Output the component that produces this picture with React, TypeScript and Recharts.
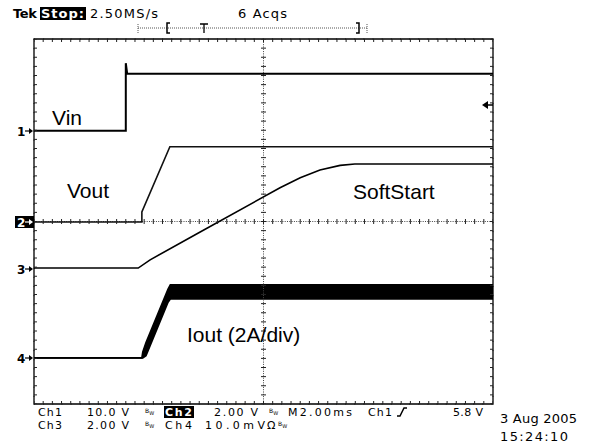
import React from 'react';
import { ComposedChart, Line, Area, Scatter, XAxis, YAxis, CartesianGrid, ReferenceLine, ReferenceArea } from 'recharts';

// scope screen: 10 x 8 divisions, time in divisions (2 ms/div), level in divisions from bottom
const xDivs = [0, 1, 2, 3, 4, 5, 6, 7, 8, 9, 10];
const yDivs = [0, 1, 2, 3, 4, 5, 6, 7, 8];

const vinTime = [0, 2.0, 2.0, 2.03, 10];
const vinLevel = [5.99, 5.99, 7.47, 7.24, 7.24];

const voutTime = [0, 2.35, 2.35, 2.96, 10];
const voutLevel = [3.99, 3.99, 4.21, 5.64, 5.64];

const ssTime = [0, 2.27, 2.53, 3.62, 5.36, 5.8, 6.23, 6.67, 6.99, 10];
const ssLevel = [2.98, 2.98, 3.16, 3.77, 4.74, 4.96, 5.13, 5.23, 5.26, 5.26];

const ioutTime = [0, 2.35, 2.37, 2.44, 2.92, 2.97, 10];
const ioutLow = [1.01, 1.01, 1.01, 1.06, 2.23, 2.3, 2.3];
const ioutHigh = [1.01, 1.01, 1.14, 1.35, 2.52, 2.61, 2.61];

// minor graticule ticks every 0.2 div
const minorX = Array.from({ length: 51 }, (_, i) => i / 5);
const minorY = Array.from({ length: 41 }, (_, i) => i / 5);

const zip = (t: number[], v: number[]) => t.map((x, i) => ({ x, y: v[i] }));
const vinData = zip(vinTime, vinLevel);
const voutData = zip(voutTime, voutLevel);
const ssData = zip(ssTime, ssLevel);
const ioutData = ioutTime.map((x, i) => ({ x, band: [ioutLow[i], ioutHigh[i]] }));

const rowTicks = (y: number) => minorX.map((x) => ({ x, y }));
const colTicks = (x: number) => minorY.map((y) => ({ x, y }));

const vTick = (up: number, down: number) => (p: any) => (
    <line x1={p.cx} x2={p.cx} y1={p.cy - up} y2={p.cy + down} stroke="#222" strokeWidth={1} />
);
const hTick = (left: number, right: number) => (p: any) => (
    <line x1={p.cx - left} x2={p.cx + right} y1={p.cy} y2={p.cy} stroke="#222" strokeWidth={1} />
);

const mono = { fontFamily: 'DejaVu Sans', fontSize: 13, fill: '#000' } as const;
const foot = { fontFamily: 'DejaVu Sans', fontSize: 11, fill: '#000' } as const;
const label = { fontFamily: 'Liberation Sans', fontSize: 21, fill: '#000' } as const;

const Bw = ({ x, y }: { x: number; y: number }) => (
    <text x={x} y={y - 3} fontFamily="DejaVu Sans" fontSize={6} fill="#000">
        B<tspan dy={2} fontSize={5}>W</tspan>
    </text>
);

const Marker = ({ n, y, inverted }: { n: string; y: number; inverted?: boolean }) => {
    const c = inverted ? '#fff' : '#000';
    return (
        <g>
            {inverted && <rect x={15} y={y - 6} width={19} height={12} fill="#000" />}
            <text x={17} y={y + 4.5} fontFamily="DejaVu Sans" fontSize={12} fontWeight="bold" fill={c}>{n}</text>
            <line x1={25} x2={30} y1={y} y2={y} stroke={c} strokeWidth={1.2} />
            <path d={`M29,${y - 3} L33,${y} L29,${y + 3} Z`} fill={c} />
        </g>
    );
};

const Overlay = () => (
    <svg width={590} height={443} style={{ position: 'absolute', left: 0, top: 0, pointerEvents: 'none' }}>
        {/* header */}
        <text x={13} y={18} {...mono} fontWeight="bold" textLength={24}>Tek</text>
        <rect x={40} y={7} width={46} height={13} fill="#000" />
        <text x={41} y={18} {...mono} fontWeight="bold" fill="#fff" textLength={43}>Stop:</text>
        <text x={90} y={18} {...mono} textLength={68}>2.50MS/s</text>
        <text x={238} y={18} {...mono} textLength={49}>6 Acqs</text>
        <line x1={138} x2={367} y1={28} y2={28} stroke="#555" strokeDasharray="1 1" />
        <line x1={138} x2={138} y1={24} y2={33} stroke="#555" strokeDasharray="1 1" />
        <line x1={367} x2={367} y1={24} y2={33} stroke="#555" strokeDasharray="1 1" />
        <path d="M170,23 L167,23 L167,33 L170,33" fill="none" stroke="#000" strokeWidth={1.5} />
        <path d="M356,23 L359,23 L359,33 L356,33" fill="none" stroke="#000" strokeWidth={1.5} />
        <path d="M200,24 L208,24 M204,24 L204,33" fill="none" stroke="#000" strokeWidth={1.3} />

        {/* channel markers */}
        <Marker n="1" y={131} />
        <Marker n="2" y={222} inverted />
        <Marker n="3" y={269} />
        <Marker n="4" y={358} />
        <path d="M482,105 L488,101 L488,109 Z" fill="#000" />
        <line x1={487} x2={493} y1={105} y2={105} stroke="#000" strokeWidth={1.5} />

        {/* trace labels */}
        <text x={52} y={125} {...label}>Vin</text>
        <text x={67} y={198} {...label}>Vout</text>
        <text x={353} y={199} {...label}>SoftStart</text>
        <text x={187} y={342} {...label}>Iout (2A/div)</text>

        {/* footer */}
        <text x={38} y={416} {...foot} textLength={24}>Ch1</text>
        <text x={87} y={416} {...foot} textLength={42}>10.0 V</text>
        <Bw x={145} y={416} />
        <rect x={164} y={406} width={30} height={12} fill="#000" />
        <text x={165} y={416} {...foot} fontWeight="bold" fill="#fff" textLength={27}>Ch2</text>
        <text x={214} y={416} {...foot} textLength={44}>2.00 V</text>
        <Bw x={269} y={416} />
        <text x={288} y={416} {...foot} textLength={64}>M2.00ms</text>
        <text x={368} y={416} {...foot} textLength={24}>Ch1</text>
        <path d="M397,416 L400,416 L404,408 L407,408" fill="none" stroke="#000" strokeWidth={1.5} />
        <text x={453} y={416} {...foot} textLength={30}>5.8 V</text>

        <text x={38} y={429} {...foot} textLength={24}>Ch3</text>
        <text x={87} y={429} {...foot} textLength={42}>2.00 V</text>
        <Bw x={145} y={429} />
        <text x={165} y={429} {...foot} textLength={27}>Ch4</text>
        <text x={205} y={429} {...foot} textLength={60}>10.0mV</text>
        <text x={267} y={429} {...foot}>Ω</text>
        <Bw x={278} y={429} />

        <text x={500} y={423} {...mono} textLength={77}>3 Aug 2005</text>
        <text x={500} y={441} {...mono} textLength={68}>15:24:10</text>
    </svg>
);

const App = () => {
    return (
        <div style={{ position: 'absolute', left: 0, top: 0, width: 590, height: 443, background: '#fff' }}>
            <ComposedChart width={590} height={443} margin={{ top: 39, right: 97, bottom: 39, left: 34 }}>
                <XAxis dataKey="x" type="number" domain={[0, 10]} ticks={xDivs} allowDataOverflow mirror tick={false} tickLine={false} axisLine={false} />
                <YAxis dataKey="y" type="number" domain={[0, 8]} ticks={yDivs} allowDataOverflow mirror tick={false} tickLine={false} axisLine={false} />
                <CartesianGrid stroke="#333" strokeDasharray="1 8.15" />
                <ReferenceLine x={5} stroke="#444" strokeDasharray="1 1.3" />
                <ReferenceLine y={4} stroke="#444" strokeDasharray="1 1.3" />
                <ReferenceArea x1={0} x2={10} y1={0} y2={8} fill="none" stroke="#000" strokeWidth={1.3} />

                <Scatter data={rowTicks(8)} dataKey="y" shape={vTick(0, 3)} isAnimationActive={false} />
                <Scatter data={rowTicks(0)} dataKey="y" shape={vTick(3, 0)} isAnimationActive={false} />
                <Scatter data={rowTicks(4)} dataKey="y" shape={vTick(2.5, 2.5)} isAnimationActive={false} />
                <Scatter data={colTicks(0)} dataKey="y" shape={hTick(0, 3)} isAnimationActive={false} />
                <Scatter data={colTicks(10)} dataKey="y" shape={hTick(3, 0)} isAnimationActive={false} />
                <Scatter data={colTicks(5)} dataKey="y" shape={hTick(2.5, 2.5)} isAnimationActive={false} />

                <Line data={vinData} dataKey="y" type="linear" stroke="#000" strokeWidth={2} dot={false} isAnimationActive={false} />
                <Line data={voutData} dataKey="y" type="linear" stroke="#111" strokeWidth={1.6} dot={false} isAnimationActive={false} />
                <Line data={ssData} dataKey="y" type="linear" stroke="#000" strokeWidth={1.6} dot={false} isAnimationActive={false} />
                <Area data={ioutData} dataKey="band" type="linear" stroke="#000" strokeWidth={1.6} fill="#000" fillOpacity={1} isAnimationActive={false} />
            </ComposedChart>
            <Overlay />
        </div>
    );
};

export default App;
